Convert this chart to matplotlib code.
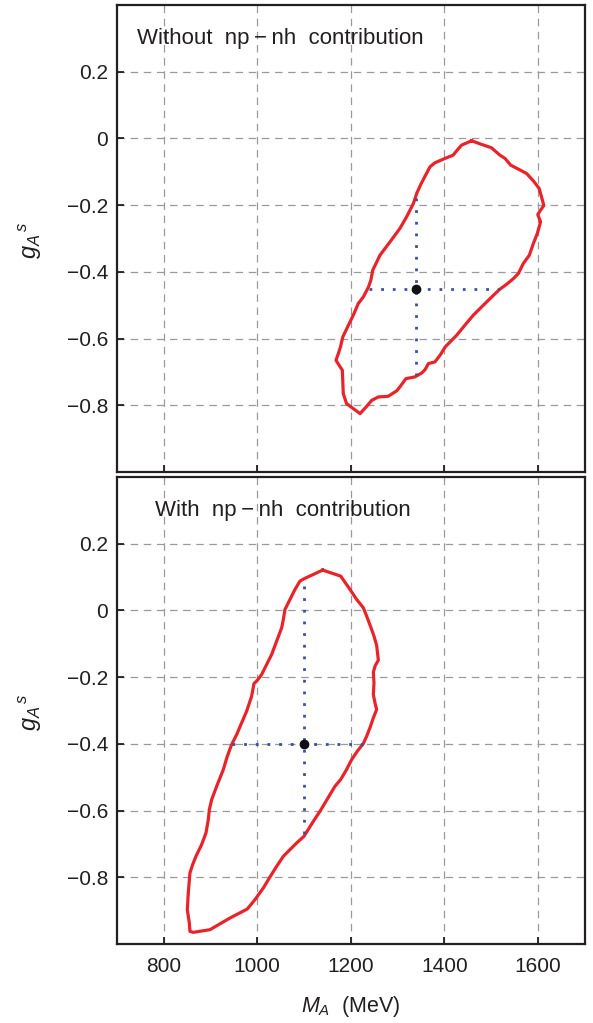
import matplotlib
matplotlib.use("Agg")
import matplotlib.pyplot as plt
import numpy as np
from matplotlib.ticker import FixedLocator, FuncFormatter

plt.rcParams['font.family'] = ['Liberation Sans', 'DejaVu Sans']
plt.rcParams['mathtext.fontset'] = 'custom'
plt.rcParams['mathtext.it'] = 'Liberation Sans:italic'
plt.rcParams['mathtext.rm'] = 'Liberation Sans'

# ---- data: panel 1 (without np-nh) ----
top_ma = [1458.6, 1480, 1501, 1519, 1530, 1542, 1558.5, 1576, 1590.5, 1603, 1608, 1613,
          1606, 1600, 1606, 1599, 1590.5, 1582, 1569, 1558.5, 1548, 1533.5, 1518, 1498,
          1480, 1462, 1444, 1426.5, 1416, 1402, 1391, 1380, 1366, 1359, 1352, 1337, 1318,
          1305, 1298, 1280, 1259, 1245, 1234, 1220, 1205.5, 1191, 1184, 1183, 1182, 1168.4,
          1173.4, 1178, 1183, 1195, 1207, 1216, 1227, 1238, 1243, 1247, 1262.5, 1284, 1305,
          1319.5, 1334, 1341, 1350, 1369.5, 1380, 1398, 1419, 1426.5, 1437, 1458.6]
top_ga = [-0.007, -0.018, -0.028, -0.05, -0.06, -0.08, -0.092, -0.105, -0.127, -0.15, -0.175,
          -0.201, -0.215, -0.228, -0.25, -0.285, -0.315, -0.35, -0.375, -0.405, -0.42, -0.437,
          -0.453, -0.48, -0.505, -0.53, -0.56, -0.59, -0.605, -0.625, -0.65, -0.67, -0.675,
          -0.693, -0.703, -0.715, -0.72, -0.745, -0.757, -0.773, -0.775, -0.785, -0.803, -0.825,
          -0.81, -0.795, -0.765, -0.73, -0.695, -0.665, -0.645, -0.625, -0.595, -0.56, -0.525,
          -0.495, -0.475, -0.445, -0.425, -0.395, -0.35, -0.31, -0.27, -0.235, -0.195, -0.165,
          -0.137, -0.085, -0.073, -0.062, -0.05, -0.037, -0.02, -0.007]
top_best = (1340, -0.45)
top_h_range = (1238, 1518)
top_v_range = (-0.18, -0.71)

# ---- data: panel 2 (with np-nh) ----
bot_ma = [1139.9, 1178.4, 1198.4, 1212.6, 1226.9, 1234, 1242.6, 1249.7, 1255.4, 1259, 1252.5,
          1248.3, 1249.7, 1248.3, 1251.8, 1255.4, 1248.3, 1241, 1234, 1226.9, 1214, 1202, 1191,
          1178.4, 1166.3, 1155.6, 1144.9, 1134.2, 1120, 1100, 1084.3, 1070, 1055.8, 1041.5,
          1027.2, 1013, 995.1, 978.7, 941.7, 898.9, 863.2, 856, 854.7, 850.4, 852.5, 856,
          861.8, 868.9, 881, 890.3, 895.3, 897.5, 902.5, 913.2, 927.4, 936, 945.2, 956, 966.6,
          977.3, 988, 993, 998.7, 1009.4, 1020.1, 1030.8, 1041.5, 1052.2, 1055.8, 1059.3, 1070,
          1080.7, 1091.4, 1100, 1120, 1139.9]
bot_ga = [0.121, 0.103, 0.063, 0.033, 0.008, -0.017, -0.049, -0.077, -0.105, -0.149, -0.165,
          -0.185, -0.217, -0.252, -0.277, -0.297, -0.322, -0.352, -0.377, -0.399, -0.422,
          -0.447, -0.477, -0.507, -0.527, -0.552, -0.577, -0.602, -0.632, -0.677, -0.697,
          -0.717, -0.737, -0.767, -0.799, -0.832, -0.867, -0.895, -0.922, -0.957, -0.965,
          -0.962, -0.937, -0.897, -0.847, -0.787, -0.762, -0.737, -0.702, -0.667, -0.627,
          -0.597, -0.567, -0.527, -0.477, -0.437, -0.402, -0.372, -0.337, -0.302, -0.257,
          -0.219, -0.212, -0.192, -0.162, -0.132, -0.092, -0.052, -0.027, 0.003, 0.033, 0.063,
          0.088, 0.095, 0.108, 0.121]
bot_best = (1100, -0.40)
bot_h_range = (947, 1227)
bot_v_range = (0.073, -0.672)

labels = ["Without  np\u2009\u2212\u2009nh  contribution", "With  np\u2009\u2212\u2009nh  contribution"]
xticks = [800, 1000, 1200, 1400, 1600]
yticks = [-0.8, -0.6, -0.4, -0.2, 0.0, 0.2]

fig = plt.figure(figsize=(5.93, 10.23), dpi=100)
ax1 = fig.add_axes([0.1973, 0.5386, 0.7884, 0.4565])
ax2 = fig.add_axes([0.1973, 0.0772, 0.7884, 0.4565])

def yfmt(v, pos):
    if abs(v) < 1e-9:
        return "0"
    s = f"{abs(v):.1f}"
    return ("\u2212" + s) if v < 0 else s

red = '#e8242a'
blue = '#3c4fa3'
panels = [
    (ax1, top_ma, top_ga, top_best, top_h_range, top_v_range, labels[0], 0.043),
    (ax2, bot_ma, bot_ga, bot_best, bot_h_range, bot_v_range, labels[1], 0.081),
]
for ax, xs, ys, best, hr, vr, lab, tx in panels:
    ax.set_xlim(700, 1700)
    ax.set_ylim(-1.0, 0.4)
    ax.xaxis.set_major_locator(FixedLocator(xticks))
    ax.yaxis.set_major_locator(FixedLocator(yticks))
    ax.yaxis.set_major_formatter(FuncFormatter(yfmt))
    ax.grid(True, color='#9a9a9a', linestyle=(0, (6, 4.5)), linewidth=0.9)
    ax.set_axisbelow(True)
    for sp in ax.spines.values():
        sp.set_linewidth(1.6)
        sp.set_color('#231f20')
    ax.tick_params(direction='in', length=5, width=1.3, labelsize=15, colors='#231f20',
                   top=False, right=False)
    ax.tick_params(axis='y', pad=6.5)
    ax.tick_params(axis='x', pad=9)
    ax.plot(xs, ys, color=red, lw=2.3, zorder=3)
    ax.plot([hr[0], hr[1]], [best[1], best[1]], color=blue, lw=2.0, linestyle=(0, (1, 3.2)), zorder=4)
    ax.plot([best[0], best[0]], [vr[0], vr[1]], color=blue, lw=2.0, linestyle=(0, (1, 3.2)), zorder=4)
    ax.plot([best[0]], [best[1]], 'o', color='#111111', ms=6, zorder=5)
    ax.text(tx, 0.929, lab, transform=ax.transAxes, fontsize=16, va='center', ha='left',
            color='#231f20')

ax1.tick_params(labelbottom=False)
ax2.set_xlabel(r'$M_A$  (MeV)', fontsize=15.5, color='#231f20', labelpad=13)

for ax in (ax1, ax2):
    pos = ax.get_position()
    fig.text(30 / 593, pos.y0 + pos.height * 0.5 - 2 / 1023, r'$g_A{}^{\,s}$', rotation=90,
             fontsize=17, ha='center', va='center', color='#231f20')

fig.savefig('out.png', dpi=100)
